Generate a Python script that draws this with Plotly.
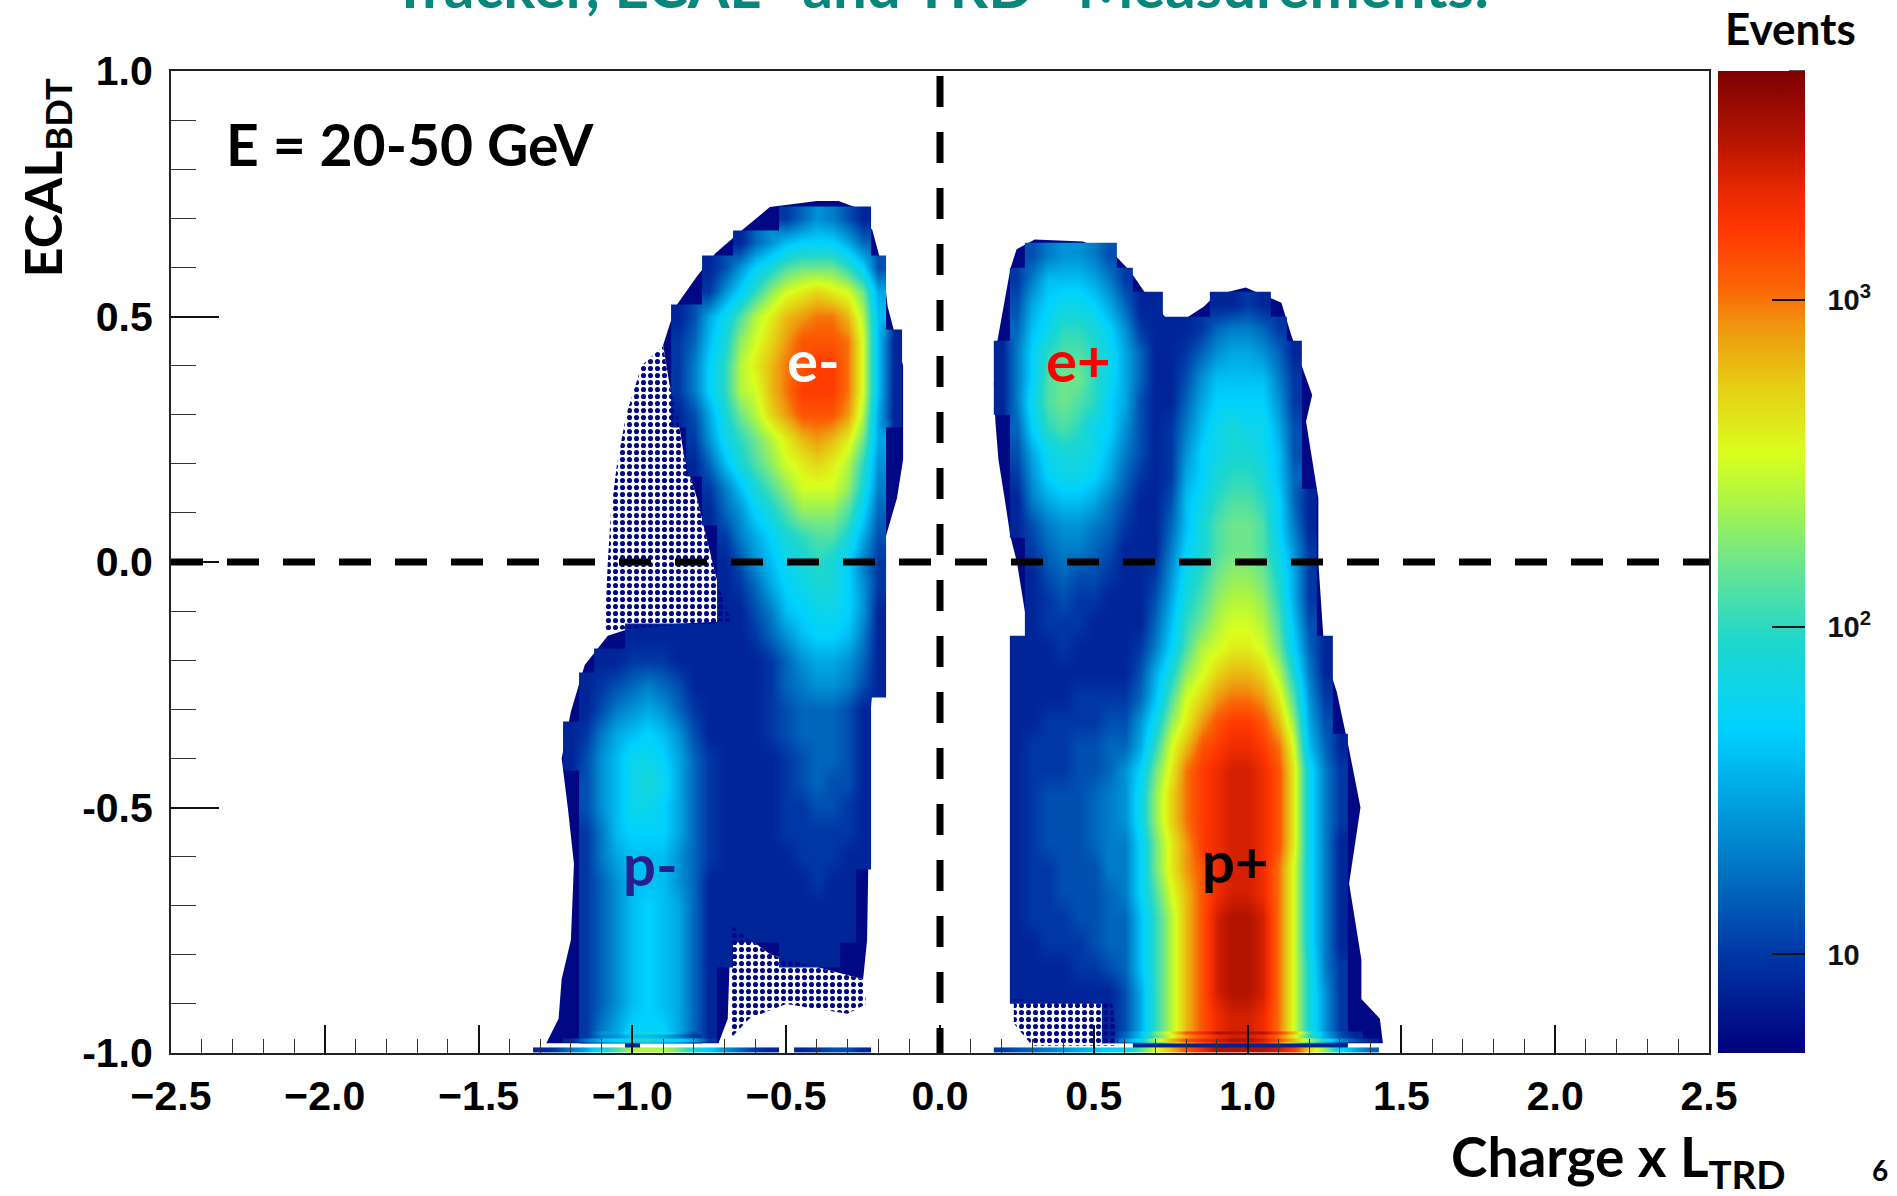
import math
import plotly.graph_objects as go

# Values below are 10*log10(events); 0 = empty bin
x_neg = [-1.35,-1.30,-1.25,-1.20,-1.15,-1.10,-1.05,-1.00,-0.95,-0.90,-0.85,-0.80,-0.75,-0.70,-0.65,-0.60,-0.55,-0.50,-0.45,-0.40,-0.35,-0.30,-0.25,-0.20,-0.15,-0.10]
x_pos = [0.20,0.25,0.30,0.35,0.40,0.45,0.50,0.55,0.60,0.65,0.70,0.75,0.80,0.85,0.90,0.95,1.00,1.05,1.10,1.15,1.20,1.25,1.30,1.35,1.40,1.45]
y_rows = [0.75,0.70,0.65,0.60,0.55,0.50,0.45,0.40,0.35,0.30,0.25,0.20,0.15,0.10,0.05,0.00,-0.05,-0.10,-0.15,-0.20,-0.25,-0.30,-0.35,-0.40,-0.45,-0.50,-0.55,-0.60,-0.65,-0.70,-0.75,-0.80,-0.85,-0.90,-0.95]

z_neg = [
[0,0,0,0,0,0,0,0,0,0,0,0,0,0,0,0,0,0,0,0,0,0,0,0,0,0],
[0,0,0,0,0,0,0,0,0,0,0,0,0,0,0,0,8,10,12,14,13,11,9,0,0,0],
[0,0,0,0,0,0,0,0,0,0,0,0,0,0,9,12,14,16,17,17,17,15,12,8,0,0],
[0,0,0,0,0,0,0,0,0,0,0,0,9,11,14,17,19,21,22,22,22,20,17,11,0,0],
[0,0,0,0,0,0,0,0,0,0,0,8,10,14,17,20,23,25,26,27,26,25,22,15,8,0],
[0,0,0,0,0,0,0,0,0,8,9,11,15,18,21,24,26,28,29,30,30,28,24,16,8,0],
[0,0,0,0,0,0,0,0,0,8,10,12,16,19,23,25,27,29,31,31,31,30,25,16,9,0],
[0,0,0,0,0,0,0,0,0,8,10,13,17,20,24,26,28,30,31,32,32,30,25,16,9,0],
[0,0,0,0,0,0,0,0,0,8,10,13,17,20,24,25,28,30,32,32,32,30,25,16,9,0],
[0,0,0,0,0,0,0,0,0,0,9,11,15,19,22,24,27,29,31,31,31,29,24,15,9,0],
[0,0,0,0,0,0,0,0,0,0,8,10,14,18,20,22,24,26,28,29,28,26,22,15,8,0],
[0,0,0,0,0,0,0,0,0,0,8,9,12,16,19,21,23,25,26,27,26,24,20,14,8,0],
[0,0,0,0,0,0,0,0,0,0,0,8,10,13,16,19,21,23,25,25,25,23,19,13,8,0],
[0,0,0,0,0,0,0,0,0,0,0,8,9,12,14,17,19,21,23,23,23,21,17,12,8,0],
[0,0,0,0,0,0,0,0,0,0,0,0,8,10,13,15,17,19,20,21,21,19,15,11,8,0],
[0,0,0,0,0,0,0,0,0,0,0,0,8,9,11,14,16,18,19,20,19,17,13,10,0,0],
[0,0,0,0,0,0,0,0,0,0,0,0,8,9,10,12,15,17,18,19,19,17,14,10,0,0],
[0,0,0,0,0,0,0,0,0,0,0,0,0,9,9,11,13,16,17,18,18,17,14,9,0,0],
[0,0,0,0,0,8,8,9,9,9,9,9,9,9,9,10,12,14,16,17,17,16,13,9,0,0],
[0,0,0,0,8,9,9,10,10,10,9,9,9,9,9,9,10,12,14,15,15,14,12,9,0,0],
[0,0,0,8,9,10,11,12,13,12,11,9,9,9,9,9,10,12,13,14,14,13,11,9,0,0],
[0,0,0,8,9,11,13,14,15,14,12,10,9,9,9,9,10,11,12,12,12,11,9,8,0,0],
[0,0,0,9,10,13,15,16,17,16,14,11,9,9,9,9,10,11,12,12,12,11,9,0,0,0],
[0,0,0,9,11,14,16,18,18,17,15,12,10,9,9,9,9,10,11,12,12,11,9,0,0,0],
[0,0,0,8,11,14,16,18,19,18,15,12,10,9,9,9,9,10,11,12,11,11,9,0,0,0],
[0,0,0,8,11,14,16,18,18,17,15,12,10,9,9,9,9,10,10,11,11,10,9,0,0,0],
[0,0,0,8,10,13,16,17,17,17,15,12,10,9,9,9,9,10,10,10,10,10,9,0,0,0],
[0,0,0,8,10,13,15,16,16,16,14,12,10,9,9,9,9,9,10,10,10,9,9,0,0,0],
[0,0,0,8,10,12,14,16,16,16,14,12,9,9,9,9,9,9,9,10,9,9,8,0,0,0],
[0,0,0,8,10,12,14,16,17,16,15,12,9,9,9,9,9,9,9,9,9,9,8,0,0,0],
[0,0,0,8,10,12,14,16,17,16,15,12,9,9,9,9,9,9,9,9,9,9,0,0,0,0],
[0,0,0,8,10,12,14,16,17,16,15,12,9,9,0,0,0,9,9,9,9,0,0,0,0,0],
[0,0,0,8,10,12,14,16,17,16,15,12,9,8,0,0,0,0,0,0,0,0,0,0,0,0],
[0,0,0,8,10,12,14,16,17,16,15,12,9,0,0,0,0,0,0,0,0,0,0,0,0,0],
[0,0,8,8,10,13,15,17,17,17,15,12,9,0,0,0,0,0,0,0,0,0,0,0,0,0],
]

z_pos = [
[0,0,0,0,0,0,0,0,0,0,0,0,0,0,0,0,0,0,0,0,0,0,0,0,0,0],
[0,0,8,8,8,8,0,0,0,0,0,0,0,0,0,0,0,0,0,0,0,0,0,0,0,0],
[0,8,11,13,14,14,13,11,8,0,0,0,0,0,0,0,0,0,0,0,0,0,0,0,0,0],
[8,10,13,16,16,16,15,13,10,8,0,0,0,0,0,8,8,0,0,0,0,0,0,0,0,0],
[8,11,15,17,18,18,17,15,12,9,9,0,0,8,9,9,10,9,8,0,0,0,0,0,0,0],
[8,12,16,18,20,20,19,17,14,10,9,9,9,10,12,13,13,12,10,8,0,0,0,0,0,0],
[9,13,17,20,21,21,20,18,15,12,9,9,10,12,14,15,15,14,12,9,0,0,0,0,0,0],
[9,13,17,21,22,22,20,18,15,12,9,9,11,14,16,16,16,16,13,10,0,0,0,0,0,0],
[9,13,18,21,22,21,20,17,15,11,9,9,12,15,17,17,17,17,14,10,8,0,0,0,0,0],
[8,12,17,20,21,20,18,17,14,11,9,10,13,16,18,19,18,18,15,11,8,0,0,0,0,0],
[8,11,15,18,19,19,18,16,13,11,9,10,14,17,18,19,19,18,16,11,8,0,0,0,0,0],
[0,10,14,17,18,18,17,15,12,10,9,10,15,17,19,20,20,19,16,12,8,0,0,0,0,0],
[0,9,13,15,16,16,15,13,11,9,9,11,16,18,20,21,21,20,17,12,9,0,0,0,0,0],
[0,9,11,13,14,14,13,12,10,9,9,12,16,19,21,22,22,21,17,13,9,0,0,0,0,0],
[0,8,10,12,13,13,12,11,9,9,9,13,17,19,21,22,22,21,18,14,10,0,0,0,0,0],
[0,0,9,11,12,11,11,10,9,9,10,14,18,20,22,23,23,22,19,15,10,8,0,0,0,0],
[0,0,9,10,11,10,10,9,9,9,11,15,19,21,23,24,24,23,20,15,10,8,0,0,0,0],
[0,8,9,10,10,10,9,9,9,9,12,16,20,22,24,25,25,24,21,16,11,8,0,0,0,0],
[0,9,9,9,10,9,9,9,9,10,13,17,21,24,25,26,26,25,22,17,12,9,0,0,0,0],
[0,9,9,9,9,9,9,9,9,11,15,19,23,25,27,28,28,27,24,19,13,9,0,0,0,0],
[0,9,9,9,9,10,10,10,10,12,16,21,25,27,29,30,30,29,26,21,14,10,8,0,0,0],
[0,9,9,10,10,10,10,11,11,14,18,23,26,29,31,32,32,31,28,23,15,11,8,0,0,0],
[0,9,10,10,10,11,11,12,12,15,20,25,28,31,32,33,33,32,30,25,16,12,9,8,0,0],
[0,9,10,10,10,11,11,12,14,17,22,26,30,32,33,34,34,33,31,26,18,13,10,8,0,0],
[0,9,10,11,11,11,12,13,14,18,23,27,30,32,33,34,34,33,31,26,18,13,10,8,0,0],
[0,9,10,11,11,11,12,13,14,18,23,27,30,32,33,34,34,33,31,26,18,13,10,8,0,0],
[0,9,10,11,11,11,12,13,13,17,22,26,29,32,33,34,34,33,31,26,18,13,9,8,0,0],
[0,9,10,10,11,11,11,13,13,17,22,26,29,31,33,34,34,33,30,25,18,13,9,8,0,0],
[0,9,10,10,11,11,11,12,13,17,21,25,28,31,33,34,34,33,30,25,18,13,9,8,0,0],
[0,9,10,10,10,11,11,12,12,16,20,24,28,31,34,35,35,34,30,25,18,13,9,8,0,0],
[0,9,9,10,10,10,11,12,12,16,20,24,28,31,34,35,35,34,30,25,18,13,9,8,0,0],
[0,9,9,9,9,10,10,11,12,16,20,24,28,31,34,35,35,34,30,25,19,13,10,8,0,0],
[0,9,9,9,9,9,9,9,11,15,20,24,28,31,34,35,35,34,30,25,19,14,10,8,8,0],
[0,0,0,0,0,0,0,9,11,15,20,24,28,31,33,34,34,33,30,25,19,14,10,8,8,0],
]

# Thin bands at the bottom edge: (y from, y to), values along x
band_y = [(-0.950,-0.955),(-0.955,-0.962),(-0.962,-0.970),(-0.970,-0.978),(-0.978,-0.981),(-0.981,-0.988),(-0.988,-0.996)]
band_neg = [
[0,0,8,8,10,13,15,17,17,17,15,12,9,0,0,0,0,0,0,0,0,0,0,0,0,0],
[0,0,8,8,10,14,15,18,19,18,15,11,8,0,0,0,0,0,0,0,0,0,0,0,0,0],
[0,0,8,8,10,13,14,16,16,15,13,10,8,0,0,0,0,0,0,0,0,0,0,0,0,0],
[0,0,8,9,13,16,17,19,20,18,17,15,10,0,0,0,0,0,0,0,0,0,0,0,0,0],
[0,0,8,8,9,12,13,15,15,14,12,9,8,0,0,0,0,0,0,0,0,0,0,0,0,0],
[0,0,0,0,8,8,8,9,8,8,8,8,0,8,0,0,0,0,0,0,0,0,0,0,0,0],
[0,9,10,13,15,19,21,24,24,24,22,19,17,14,12,10,9,0,9,10,11,11,9,0,0,0],
]
band_pos = [
[0,0,0,0,0,0,0,9,11,15,20,24,28,31,33,34,34,33,30,25,19,14,10,8,8,0],
[0,0,0,0,0,0,0,9,12,16,22,26,31,33,35,35,35,35,32,28,21,15,11,9,8,0],
[0,0,0,0,0,0,0,9,12,16,21,25,29,31,33,34,34,33,30,26,20,15,11,9,8,0],
[0,0,0,0,0,0,0,10,14,18,24,28,31,33,34,35,35,34,31,28,24,19,14,11,9,0],
[0,0,0,0,0,0,0,9,11,14,18,23,28,30,32,33,33,32,28,23,18,13,9,8,0,0],
[0,0,0,0,0,0,0,0,0,9,9,9,9,9,9,9,9,9,9,9,9,9,9,0,0,0],
[10,11,12,13,14,15,16,17,18,21,25,28,31,33,35,35,35,35,34,32,27,23,18,15,12,0],
]

# Outlines of the solid dark-blue halo and of the sparsely filled regions
halo_neg_x = [-0.40,-0.553,-0.643,-0.73,-0.79,-0.86,-0.90,-0.88,-0.85,-0.83,-0.79,-0.76,-0.74,-0.72,-0.68,-0.98,-1.08,-1.155,-1.20,-1.23,-1.21,-1.19,-1.20,-1.23,-1.24,-1.28,-0.72,-0.69,-0.68,-0.55,-0.25,-0.237,-0.225,-0.20,-0.20,-0.14,-0.12,-0.12,-0.12,-0.17,-0.183,-0.22,-0.277,-0.33]
halo_neg_y = [0.735,0.723,0.676,0.629,0.582,0.52,0.442,0.364,0.286,0.208,0.13,0.052,0.0,-0.05,-0.12,-0.13,-0.15,-0.21,-0.305,-0.40,-0.50,-0.615,-0.77,-0.85,-0.93,-0.98,-0.98,-0.93,-0.74,-0.80,-0.85,-0.77,-0.30,-0.11,0.0,0.13,0.208,0.286,0.40,0.52,0.59,0.676,0.723,0.735]
halo_pos_x = [0.229,0.249,0.308,0.465,0.563,0.621,0.68,0.759,0.857,0.896,0.994,1.11,1.14,1.17,1.21,1.19,1.21,1.23,1.23,1.25,1.29,1.33,1.367,1.33,1.37,1.37,1.43,1.44,0.66,0.64,0.24,0.229,0.229,0.229,0.229,0.27,0.29,0.278,0.25,0.229,0.21,0.19,0.18,0.175,0.185]
halo_pos_y = [0.598,0.637,0.657,0.653,0.629,0.59,0.536,0.48,0.52,0.544,0.559,0.528,0.466,0.41,0.34,0.286,0.208,0.13,0.0,-0.187,-0.265,-0.382,-0.50,-0.655,-0.81,-0.89,-0.93,-0.98,-0.98,-0.90,-0.89,-0.81,-0.655,-0.50,-0.34,-0.265,-0.187,-0.109,0.0,0.052,0.13,0.208,0.286,0.364,0.445]
sparse_a_x = [-0.90,-0.97,-1.02,-1.05,-1.07,-1.08,-1.09,-0.68,-0.72,-0.74,-0.76,-0.79,-0.83,-0.85,-0.88]
sparse_a_y = [0.44,0.40,0.30,0.20,0.10,0.0,-0.14,-0.12,-0.05,0.0,0.052,0.13,0.208,0.286,0.364]
sparse_b_x = [-0.68,-0.55,-0.25,-0.24,-0.30,-0.50,-0.62,-0.68]
sparse_b_y = [-0.74,-0.80,-0.85,-0.90,-0.92,-0.90,-0.93,-0.97]
sparse_c_x = [0.24,0.56,0.58,0.30,0.24]
sparse_c_y = [-0.89,-0.90,-0.985,-0.985,-0.94]

x_ticks = [-2.5,-2.0,-1.5,-1.0,-0.5,0.0,0.5,1.0,1.5,2.0,2.5]
y_ticks = [-1.0,-0.5,0.0,0.5,1.0]
y_ticklabels = ["-1.0","-0.5","0.0","0.5","1.0"]
cbar_major = [1,2,3]
cbar_labels = ["\u00a0\u00a010","\u00a0\u00a010<sup>2</sup>","\u00a0\u00a010<sup>3</sup>"]
cbar_minor = [6,7,8,9,20,30,40,50,60,70,80,90,200,300,400,500,600,700,800,900,2000,3000,4000,5000]

scale = [[0,"rgb(0,0,125)"],[0.1,"rgb(0,55,165)"],[0.2,"rgb(0,125,200)"],[0.33,"rgb(0,210,255)"],
         [0.42,"rgb(30,215,205)"],[0.5,"rgb(110,230,140)"],[0.56,"rgb(170,245,70)"],[0.61,"rgb(218,255,30)"],
         [0.68,"rgb(230,205,20)"],[0.74,"rgb(240,150,15)"],[0.78,"rgb(250,100,5)"],[0.84,"rgb(255,55,0)"],
         [0.88,"rgb(230,40,0)"],[0.93,"rgb(180,20,0)"],[1,"rgb(125,0,0)"]]

W, H = 1897, 1196
L, R, T, B = 171, 1709, 70.5, 1053
PW, PH = R-L, B-T
ZMIN, ZMAX = math.log10(5), math.log10(5000)
NAVY = "rgb(0,8,132)"

def clean(rows):
    return [[(v/10 if v >= 9 else None) for v in r] for r in rows]

fig = go.Figure()
common = dict(zmin=ZMIN, zmax=ZMAX, colorscale=scale, zsmooth="best", hoverongaps=False)
fig.add_trace(go.Heatmap(x=x_neg, y=y_rows, z=clean(z_neg), showscale=True,
    colorbar=dict(x=(1718-L)/PW, xanchor="left", xpad=0, ypad=0, y=0, yanchor="bottom", len=1, lenmode="fraction",
                  thickness=87, thicknessmode="pixels", outlinewidth=0,
                  tickmode="array", tickvals=cbar_major, ticktext=cbar_labels, ticks="inside", ticklen=33,
                  tickwidth=2, tickcolor="#111",
                  tickfont=dict(family="Liberation Sans", size=29, color="#111", weight="bold")), **common))
fig.add_trace(go.Heatmap(x=x_pos, y=y_rows, z=clean(z_pos), showscale=False, **common))

def band_arrays(rows):
    ys, zs = [], []
    for (a, b), r in zip(band_y, rows):
        ys += [a-0.0002, b+0.0002]
        zs += [r, r]
    return ys, clean(zs)

yb, zb = band_arrays(band_neg)
fig.add_trace(go.Heatmap(x=x_neg, y=yb, z=zb, showscale=False, **common))
yb, zb = band_arrays(band_pos)
fig.add_trace(go.Heatmap(x=x_pos, y=yb, z=zb, showscale=False, **common))

for sx, sy in [(sparse_a_x, sparse_a_y), (sparse_b_x, sparse_b_y), (sparse_c_x, sparse_c_y)]:
    fig.add_trace(go.Scatter(x=sx, y=sy, mode="lines", fill="toself", line=dict(width=0), hoverinfo="skip",
                             fillcolor="rgba(255,255,255,0)",
                             fillpattern=dict(shape=".", size=7, solidity=0.42, fgcolor=NAVY, fgopacity=1,
                                              bgcolor="rgba(255,255,255,0)", fillmode="replace")))

def poly(xs, ys):
    return "M" + " L".join(f"{a},{b}" for a, b in zip(xs, ys)) + " Z"

shapes = [
    dict(type="path", path=poly(halo_neg_x, halo_neg_y), xref="x", yref="y", layer="below", fillcolor=NAVY, line=dict(width=0)),
    dict(type="path", path=poly(halo_pos_x, halo_pos_y), xref="x", yref="y", layer="below", fillcolor=NAVY, line=dict(width=0)),
    dict(type="line", xref="x", yref="y", x0=-2.5, x1=2.5, y0=0, y1=0, line=dict(color="black", width=7, dash="32px,24px")),
    dict(type="line", xref="x", yref="y", x0=0, x1=0, y0=0.99, y1=-1.0, line=dict(color="black", width=7, dash="31px,25px")),
]
for v in cbar_minor:
    fy = (math.log10(v)-ZMIN)/(ZMAX-ZMIN)
    shapes.append(dict(type="line", xref="paper", yref="paper", x0=(1789-L)/PW, x1=(1805-L)/PW, y0=fy, y1=fy,
                       line=dict(color="#222", width=1.5)))

def px(xp): return (xp-L)/PW
def py(yp): return (B-yp)/PH
def note(text, xp, yp, size, color="black", family="Lato", **kw):
    return dict(text=text, xref="paper", yref="paper", x=px(xp), y=py(yp), showarrow=False,
                font=dict(family=family, size=size, color=color), xanchor=kw.get("xanchor","center"),
                yanchor="middle", textangle=kw.get("angle",0))

annotations = [
    note("<b>Tracker, ECAL\u00a0\u00a0\u00a0and TRD\u00a0\u00a0\u00a0Measurements:</b>", 940, -16, 60, "rgb(5,135,125)"),
    note("<b>Events</b>", 1790, 27, 44),
    note("<b>E = 20-50 GeV</b>", 410, 144, 57),
    note("<b>ECAL<sub>BDT</sub></b>", 46, 178, 52, angle=-90),
    note("<b>Charge x L<sub>TRD</sub></b>", 1618, 1160, 55),
    note("<b>6</b>", 1880, 1170, 28),
    note("<b>e-</b>", 813, 359, 58, "white"),
    note("<b>e+</b>", 1078, 359, 58, "red"),
    note("<b>p-</b>", 650, 863, 58, "rgb(40,30,140)"),
    note("<b>p+</b>", 1235, 860, 58, "black"),
]

bold41 = dict(family="Liberation Sans", size=41, color="black", weight="bold")
fig.update_layout(
    width=W, height=H, margin=dict(l=L, r=W-R, t=T, b=H-B, pad=0, autoexpand=False),
    paper_bgcolor="white", plot_bgcolor="white", showlegend=False,
    shapes=shapes, annotations=annotations,
    xaxis=dict(range=[-2.5,2.5], tickmode="array", tickvals=x_ticks, ticks="inside", ticklen=28, tickwidth=1.5,
               tickcolor="#111", showgrid=False, zeroline=False, showline=True, mirror=True, linecolor="#222", linewidth=2,
               tickfont=bold41, tickformat=".1f", ticklabelstandoff=6,
               minor=dict(dtick=0.1, tick0=0, ticks="inside", ticklen=14, tickwidth=1.2, tickcolor="#333", showgrid=False)),
    yaxis=dict(range=[-1,1], tickmode="array", tickvals=y_ticks, ticktext=y_ticklabels, ticks="inside", ticklen=48, tickwidth=1.5,
               tickcolor="#111", showgrid=False, zeroline=False, showline=True, mirror=True, linecolor="#222", linewidth=2,
               tickfont=bold41, ticklabelstandoff=8,
               minor=dict(dtick=0.1, tick0=0, ticks="inside", ticklen=25, tickwidth=1.2, tickcolor="#333", showgrid=False)),
)
fig.write_html("out.html", config=dict(displayModeBar=False),
               post_script="document.body.style.margin='0';document.body.style.overflow='hidden';")
